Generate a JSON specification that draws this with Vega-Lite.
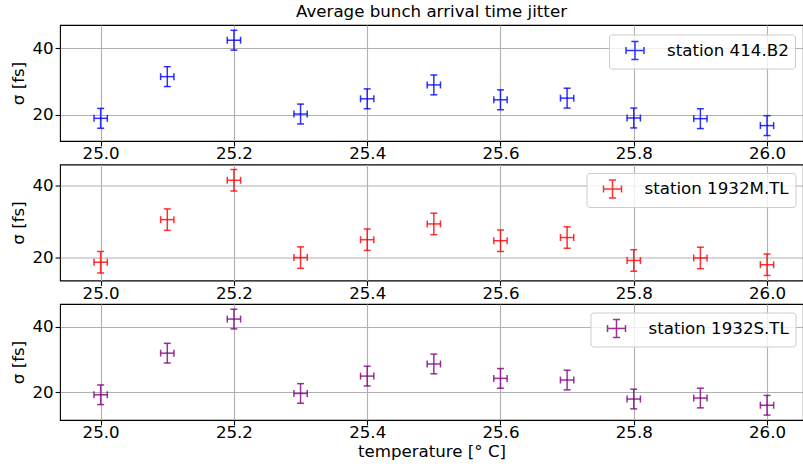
{
  "$schema": "https://vega.github.io/schema/vega-lite/v6.json",
  "padding": {"left": 10, "top": 3, "right": 0, "bottom": 5},
  "bounds": "flush",
  "spacing": 23.5,
  "datasets": {
    "b2": [
      {"st": "station 414.B2", "T": 25.0, "s": 18.9, "lo": 15.9, "hi": 21.9, "tl": 24.99, "th": 25.01},
      {"st": "station 414.B2", "T": 25.1, "s": 31.5, "lo": 28.5, "hi": 34.5, "tl": 25.09, "th": 25.11},
      {"st": "station 414.B2", "T": 25.2, "s": 42.5, "lo": 39.5, "hi": 45.5, "tl": 25.19, "th": 25.21},
      {"st": "station 414.B2", "T": 25.3, "s": 20.2, "lo": 17.2, "hi": 23.2, "tl": 25.29, "th": 25.31},
      {"st": "station 414.B2", "T": 25.4, "s": 24.8, "lo": 21.8, "hi": 27.8, "tl": 25.39, "th": 25.41},
      {"st": "station 414.B2", "T": 25.5, "s": 29.0, "lo": 26.0, "hi": 32.0, "tl": 25.49, "th": 25.51},
      {"st": "station 414.B2", "T": 25.6, "s": 24.5, "lo": 21.5, "hi": 27.5, "tl": 25.59, "th": 25.61},
      {"st": "station 414.B2", "T": 25.7, "s": 25.0, "lo": 22.0, "hi": 28.0, "tl": 25.69, "th": 25.71},
      {"st": "station 414.B2", "T": 25.8, "s": 19.0, "lo": 16.0, "hi": 22.0, "tl": 25.79, "th": 25.81},
      {"st": "station 414.B2", "T": 25.9, "s": 18.8, "lo": 15.8, "hi": 21.8, "tl": 25.89, "th": 25.91},
      {"st": "station 414.B2", "T": 26.0, "s": 16.7, "lo": 13.7, "hi": 19.7, "tl": 25.99, "th": 26.01}
    ],
    "m": [
      {"st": "station 1932M.TL", "T": 25.0, "s": 18.7, "lo": 15.7, "hi": 21.7, "tl": 24.99, "th": 25.01},
      {"st": "station 1932M.TL", "T": 25.1, "s": 30.6, "lo": 27.6, "hi": 33.6, "tl": 25.09, "th": 25.11},
      {"st": "station 1932M.TL", "T": 25.2, "s": 41.6, "lo": 38.6, "hi": 44.6, "tl": 25.19, "th": 25.21},
      {"st": "station 1932M.TL", "T": 25.3, "s": 20.0, "lo": 17.0, "hi": 23.0, "tl": 25.29, "th": 25.31},
      {"st": "station 1932M.TL", "T": 25.4, "s": 25.0, "lo": 22.0, "hi": 28.0, "tl": 25.39, "th": 25.41},
      {"st": "station 1932M.TL", "T": 25.5, "s": 29.4, "lo": 26.4, "hi": 32.4, "tl": 25.49, "th": 25.51},
      {"st": "station 1932M.TL", "T": 25.6, "s": 24.7, "lo": 21.7, "hi": 27.7, "tl": 25.59, "th": 25.61},
      {"st": "station 1932M.TL", "T": 25.7, "s": 25.6, "lo": 22.6, "hi": 28.6, "tl": 25.69, "th": 25.71},
      {"st": "station 1932M.TL", "T": 25.8, "s": 19.2, "lo": 16.2, "hi": 22.2, "tl": 25.79, "th": 25.81},
      {"st": "station 1932M.TL", "T": 25.9, "s": 19.9, "lo": 16.9, "hi": 22.9, "tl": 25.89, "th": 25.91},
      {"st": "station 1932M.TL", "T": 26.0, "s": 18.0, "lo": 15.0, "hi": 21.0, "tl": 25.99, "th": 26.01}
    ],
    "s": [
      {"st": "station 1932S.TL", "T": 25.0, "s": 19.3, "lo": 16.3, "hi": 22.3, "tl": 24.99, "th": 25.01},
      {"st": "station 1932S.TL", "T": 25.1, "s": 32.0, "lo": 29.0, "hi": 35.0, "tl": 25.09, "th": 25.11},
      {"st": "station 1932S.TL", "T": 25.2, "s": 42.4, "lo": 39.4, "hi": 45.4, "tl": 25.19, "th": 25.21},
      {"st": "station 1932S.TL", "T": 25.3, "s": 19.7, "lo": 16.7, "hi": 22.7, "tl": 25.29, "th": 25.31},
      {"st": "station 1932S.TL", "T": 25.4, "s": 25.0, "lo": 22.0, "hi": 28.0, "tl": 25.39, "th": 25.41},
      {"st": "station 1932S.TL", "T": 25.5, "s": 28.7, "lo": 25.7, "hi": 31.7, "tl": 25.49, "th": 25.51},
      {"st": "station 1932S.TL", "T": 25.6, "s": 24.3, "lo": 21.3, "hi": 27.3, "tl": 25.59, "th": 25.61},
      {"st": "station 1932S.TL", "T": 25.7, "s": 23.8, "lo": 20.8, "hi": 26.8, "tl": 25.69, "th": 25.71},
      {"st": "station 1932S.TL", "T": 25.8, "s": 18.0, "lo": 15.0, "hi": 21.0, "tl": 25.79, "th": 25.81},
      {"st": "station 1932S.TL", "T": 25.9, "s": 18.3, "lo": 15.3, "hi": 21.3, "tl": 25.89, "th": 25.91},
      {"st": "station 1932S.TL", "T": 26.0, "s": 16.1, "lo": 13.1, "hi": 19.1, "tl": 25.99, "th": 26.01}
    ]
  },
  "vconcat": [
    {
      "width": 743, "height": 116,
      "title": {"text": "Average bunch arrival time jitter", "offset": 4},
      "data": {"name": "b2"},
      "encoding": {
        "color": {"field": "st", "type": "nominal", "scale": {"domain": ["station 414.B2"], "range": ["#0000ff"]},
          "legend": {"title": null, "orient": "none", "legendX": 549, "legendY": 9.5}}
      },
      "layer": [
        {"mark": {"type": "rule", "strokeWidth": 1.5, "opacity": 0.8},
         "encoding": {"x": {"field": "T", "type": "quantitative", "scale": {"domain": [24.939, 26.054], "nice": false, "zero": false},
             "axis": {"values": [25.0, 25.2, 25.4, 25.6, 25.8, 26.0], "format": ".1f", "title": null}},
           "y": {"field": "lo", "type": "quantitative", "scale": {"domain": [12.05, 47.1], "nice": false, "zero": false},
             "axis": {"values": [20, 40], "title": "σ [fs]"}},
           "y2": {"field": "hi"}}},
        {"mark": {"type": "rule", "strokeWidth": 1.5, "opacity": 0.8},
         "encoding": {"x": {"field": "tl", "type": "quantitative"}, "x2": {"field": "th"}, "y": {"field": "s", "type": "quantitative"}}},
        {"mark": {"type": "tick", "orient": "horizontal", "size": 7, "thickness": 1.5, "opacity": 0.8},
         "encoding": {"x": {"field": "T", "type": "quantitative"}, "y": {"field": "lo", "type": "quantitative"}}},
        {"mark": {"type": "tick", "orient": "horizontal", "size": 7, "thickness": 1.5, "opacity": 0.8},
         "encoding": {"x": {"field": "T", "type": "quantitative"}, "y": {"field": "hi", "type": "quantitative"}}},
        {"mark": {"type": "tick", "orient": "vertical", "size": 7, "thickness": 1.5, "opacity": 0.8},
         "encoding": {"x": {"field": "tl", "type": "quantitative"}, "y": {"field": "s", "type": "quantitative"}}},
        {"mark": {"type": "tick", "orient": "vertical", "size": 7, "thickness": 1.5, "opacity": 0.8},
         "encoding": {"x": {"field": "th", "type": "quantitative"}, "y": {"field": "s", "type": "quantitative"}}}
      ]
    },
    {
      "width": 743, "height": 116,
      "data": {"name": "m"},
      "encoding": {
        "color": {"field": "st", "type": "nominal", "scale": {"domain": ["station 1932M.TL"], "range": ["#ff0000"]},
          "legend": {"title": null, "orient": "none", "legendX": 526.5, "legendY": 8.5}}
      },
      "layer": [
        {"mark": {"type": "rule", "strokeWidth": 1.5, "opacity": 0.8},
         "encoding": {"x": {"field": "T", "type": "quantitative", "scale": {"domain": [24.939, 26.054], "nice": false, "zero": false},
             "axis": {"values": [25.0, 25.2, 25.4, 25.6, 25.8, 26.0], "format": ".1f", "title": null}},
           "y": {"field": "lo", "type": "quantitative", "scale": {"domain": [13.6, 46.0], "nice": false, "zero": false},
             "axis": {"values": [20, 40], "title": "σ [fs]"}},
           "y2": {"field": "hi"}}},
        {"mark": {"type": "rule", "strokeWidth": 1.5, "opacity": 0.8},
         "encoding": {"x": {"field": "tl", "type": "quantitative"}, "x2": {"field": "th"}, "y": {"field": "s", "type": "quantitative"}}},
        {"mark": {"type": "tick", "orient": "horizontal", "size": 7, "thickness": 1.5, "opacity": 0.8},
         "encoding": {"x": {"field": "T", "type": "quantitative"}, "y": {"field": "lo", "type": "quantitative"}}},
        {"mark": {"type": "tick", "orient": "horizontal", "size": 7, "thickness": 1.5, "opacity": 0.8},
         "encoding": {"x": {"field": "T", "type": "quantitative"}, "y": {"field": "hi", "type": "quantitative"}}},
        {"mark": {"type": "tick", "orient": "vertical", "size": 7, "thickness": 1.5, "opacity": 0.8},
         "encoding": {"x": {"field": "tl", "type": "quantitative"}, "y": {"field": "s", "type": "quantitative"}}},
        {"mark": {"type": "tick", "orient": "vertical", "size": 7, "thickness": 1.5, "opacity": 0.8},
         "encoding": {"x": {"field": "th", "type": "quantitative"}, "y": {"field": "s", "type": "quantitative"}}}
      ]
    },
    {
      "width": 743, "height": 116,
      "data": {"name": "s"},
      "encoding": {
        "color": {"field": "st", "type": "nominal", "scale": {"domain": ["station 1932S.TL"], "range": ["#800080"]},
          "legend": {"title": null, "orient": "none", "legendX": 530.5, "legendY": 8.5}}
      },
      "layer": [
        {"mark": {"type": "rule", "strokeWidth": 1.5, "opacity": 0.8},
         "encoding": {"x": {"field": "T", "type": "quantitative", "scale": {"domain": [24.939, 26.054], "nice": false, "zero": false},
             "axis": {"values": [25.0, 25.2, 25.4, 25.6, 25.8, 26.0], "format": ".1f", "title": "temperature [° C]"}},
           "y": {"field": "lo", "type": "quantitative", "scale": {"domain": [11.6, 47.0], "nice": false, "zero": false},
             "axis": {"values": [20, 40], "title": "σ [fs]"}},
           "y2": {"field": "hi"}}},
        {"mark": {"type": "rule", "strokeWidth": 1.5, "opacity": 0.8},
         "encoding": {"x": {"field": "tl", "type": "quantitative"}, "x2": {"field": "th"}, "y": {"field": "s", "type": "quantitative"}}},
        {"mark": {"type": "tick", "orient": "horizontal", "size": 7, "thickness": 1.5, "opacity": 0.8},
         "encoding": {"x": {"field": "T", "type": "quantitative"}, "y": {"field": "lo", "type": "quantitative"}}},
        {"mark": {"type": "tick", "orient": "horizontal", "size": 7, "thickness": 1.5, "opacity": 0.8},
         "encoding": {"x": {"field": "T", "type": "quantitative"}, "y": {"field": "hi", "type": "quantitative"}}},
        {"mark": {"type": "tick", "orient": "vertical", "size": 7, "thickness": 1.5, "opacity": 0.8},
         "encoding": {"x": {"field": "tl", "type": "quantitative"}, "y": {"field": "s", "type": "quantitative"}}},
        {"mark": {"type": "tick", "orient": "vertical", "size": 7, "thickness": 1.5, "opacity": 0.8},
         "encoding": {"x": {"field": "th", "type": "quantitative"}, "y": {"field": "s", "type": "quantitative"}}}
      ]
    }
  ],
  "resolve": {"scale": {"color": "independent", "y": "independent", "x": "independent"}, "axis": {"x": "independent", "y": "independent"}, "legend": {"color": "independent"}},
  "config": {
    "font": "DejaVu Sans",
    "view": {"stroke": "#000000", "strokeWidth": 1.1},
    "title": {"fontSize": 16.67, "fontWeight": "normal", "font": "DejaVu Sans", "color": "#000000", "anchor": "middle"},
    "axis": {
      "domain": false,
      "grid": true, "gridColor": "#b0b0b0", "gridWidth": 1.1,
      "tickColor": "#000000", "tickSize": 4.9, "tickWidth": 1.1,
      "labelFont": "DejaVu Sans", "labelFontSize": 16.67, "labelColor": "#000000", "labelPadding": 1.5,
      "titleFont": "DejaVu Sans", "titleFontSize": 16.67, "titleFontWeight": "normal", "titleColor": "#000000",
      "labelFlush": false, "labelOverlap": false
    },
    "axisY": {"titlePadding": 4, "labelPadding": 2},
    "axisX": {"titlePadding": 1.5, "labelPadding": 0},
    "legend": {
      "labelFont": "DejaVu Sans", "labelFontSize": 16.67, "labelColor": "#000000",
      "fillColor": "rgba(255,255,255,0.8)", "strokeColor": "#cccccc", "cornerRadius": 3,
      "padding": 6, "symbolOffset": 10, "labelOffset": 22,
      "symbolType": "M-1,0H1M0,-1V1M-0.4,-1H0.4M-0.4,1H0.4M-1,-0.4V0.4M1,-0.4V0.4",
      "symbolSize": 324, "symbolStrokeWidth": 1.5, "symbolFillColor": "transparent", "symbolOpacity": 0.8
    }
  }
}
